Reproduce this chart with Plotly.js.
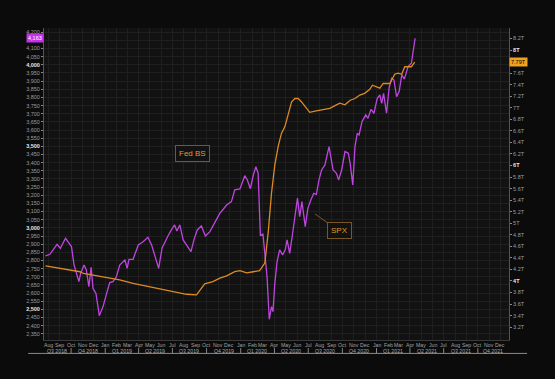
<!DOCTYPE html>
<html><head><meta charset="utf-8">
<script src="https://cdn.plot.ly/plotly-3.0.1.min.js"></script>
<style>html,body{margin:0;padding:0;background:#0b0b0b;}#chart{width:555px;height:379px;}</style>
</head><body><div id="chart"></div>
<script>
// ---- data ----
const SPX_DATES = ['2018-07-24','2018-08-05','2018-08-24','2018-09-02','2018-09-16','2018-09-28','2018-10-02','2018-10-09','2018-10-16','2018-10-22',
'2018-10-27','2018-11-05','2018-11-11','2018-11-18','2018-11-24','2018-11-29','2018-12-07','2018-12-16','2018-12-26','2019-01-04',
'2019-01-13','2019-01-22','2019-01-31','2019-02-09','2019-02-23','2019-03-01','2019-03-06','2019-03-17','2019-03-31','2019-04-13',
'2019-04-26','2019-05-06','2019-05-17','2019-05-25','2019-06-03','2019-06-13','2019-06-19','2019-06-29','2019-07-07','2019-07-13',
'2019-07-21','2019-07-30','2019-08-11','2019-08-20','2019-08-28','2019-09-06','2019-09-17','2019-09-28','2019-10-10','2019-10-23',
'2019-11-06','2019-11-15','2019-11-24','2019-12-07','2019-12-16','2019-12-30','2020-01-12','2020-01-19','2020-01-27','2020-02-04',
'2020-02-11','2020-02-17','2020-02-23','2020-03-01','2020-03-06','2020-03-12','2020-03-18','2020-03-24','2020-03-28','2020-04-02',
'2020-04-08','2020-04-15','2020-04-23','2020-04-30','2020-05-05','2020-05-12','2020-05-20','2020-05-26','2020-06-02','2020-06-08',
'2020-06-14','2020-06-23','2020-06-30','2020-07-08','2020-07-16','2020-07-23','2020-07-30','2020-08-06','2020-08-15','2020-08-26',
'2020-08-30','2020-09-06','2020-09-15','2020-09-21','2020-09-29','2020-10-08','2020-10-17','2020-10-22','2020-10-29','2020-11-04',
'2020-11-10','2020-11-15','2020-11-23','2020-12-03','2020-12-09','2020-12-17','2020-12-25','2021-01-03','2021-01-10','2021-01-15',
'2021-01-20','2021-01-28','2021-02-04','2021-02-11','2021-02-17','2021-02-24','2021-03-03','2021-03-10','2021-03-17','2021-03-27',
'2021-04-05','2021-04-10','2021-04-15'];
const SPX_VALUES = [2828,2838,2899,2875,2936,2899,2885,2772,2721,2670,
2723,2772,2742,2639,2758,2629,2598,2461,2517,2588,
2664,2670,2700,2772,2803,2752,2807,2807,2895,2915,
2942,2895,2813,2752,2875,2926,2950,2991,3018,2981,
3018,2926,2885,2854,2926,2987,3012,2950,2977,3028,
3090,3114,3140,3161,3233,3239,3320,3294,3240,3324,
3375,3335,2956,2962,2844,2700,2439,2517,2486,2660,
2793,2865,2834,2865,2926,2844,2967,3069,3182,3069,
3161,3007,3120,3171,3212,3206,3294,3355,3386,3498,
3437,3355,3335,3294,3355,3468,3458,3396,3263,3498,
3580,3570,3652,3693,3672,3727,3703,3795,3815,3764,
3825,3703,3860,3918,3907,3805,3836,3938,3912,3989,
4010,4091,4163];
const FED_DATES = ['2018-07-24','2018-08-23','2018-09-28','2018-10-25','2018-11-03','2018-12-09','2019-01-13','2019-02-09','2019-03-17','2019-04-22',
'2019-05-28','2019-07-03','2019-08-08','2019-09-04','2019-09-13','2019-09-26','2019-10-18','2019-11-06','2019-11-24','2019-12-16',
'2019-12-30','2020-01-17','2020-02-04','2020-02-21','2020-03-06','2020-03-15','2020-03-24','2020-04-02','2020-04-11','2020-04-20',
'2020-04-29','2020-05-08','2020-05-17','2020-05-26','2020-06-04','2020-06-13','2020-06-25','2020-07-05','2020-07-19','2020-08-06',
'2020-08-28','2020-09-15','2020-09-24','2020-10-08','2020-10-22','2020-11-04','2020-11-17','2020-11-30','2020-12-14','2020-12-21',
'2021-01-01','2021-01-10','2021-01-19','2021-02-06','2021-02-19','2021-02-28','2021-03-10','2021-03-18','2021-04-05','2021-04-14'];
const FED_VALUES = [4.26,4.225,4.19,4.16,4.13,4.09,4.05,4.02,3.96,3.91,
3.86,3.81,3.77,3.76,3.84,3.95,3.99,4.05,4.09,4.16,
4.18,4.14,4.16,4.18,4.31,4.83,5.52,6.01,6.33,6.56,
6.67,6.90,7.10,7.16,7.16,7.10,6.99,6.92,6.94,6.96,
6.99,7.05,7.08,7.05,7.13,7.16,7.22,7.25,7.32,7.39,
7.36,7.34,7.42,7.42,7.58,7.60,7.58,7.71,7.71,7.79];
const MONTH_NAMES = ['Jan','Feb','Mar','Apr','May','Jun','Jul','Aug','Sep','Oct','Nov','Dec'];
const QUARTER_NAMES = ['Q1','Q2','Q3','Q4'];
const SERIES_LABELS = ['Fed BS','SPX'];

// ---- axis configuration ----
const X_RANGE = ['2018-07-20','2021-12-24'];
const LEFT_RANGE = [2312, 4226];
const RIGHT_RANGE = [2.978, 8.381];
const FONT = 'Liberation Sans, Arial, sans-serif';

const lastSpx=SPX_VALUES[SPX_VALUES.length-1], lastFed=FED_VALUES[FED_VALUES.length-1];

function iso(y,m,d){return y+'-'+String(m+1).padStart(2,'0')+'-'+String(d||1).padStart(2,'0');}
const annotations=[], shapes=[];
const monthVals=[];
for(let y=2018;y<=2021;y++){for(let m=0;m<12;m++){
  const s=iso(y,m); if(s>=X_RANGE[0] && s<=X_RANGE[1]){monthVals.push(s);
    annotations.push({xref:'x',yref:'paper',x:s,y:-0.016,text:MONTH_NAMES[m],showarrow:false,yanchor:'middle',
      font:{family:FONT,size:5.2,color:'#a0a0a0'}});}
}}
const leftVals=[], leftText=[];
for(let v=2350; v<=4200; v+=50){leftVals.push(v);
  let t=v.toLocaleString('en-US');
  if(Math.abs(v-lastSpx)<25) t='';
  leftText.push(v%500===0?'<b><span style="color:#e6e6e6">'+t+'</span></b>':t);}
const rightVals=[], rightText=[];
for(let i=16;i<=41;i++){const v=i/5; rightVals.push(v);
  let t=(Number.isInteger(v)?String(v):v.toFixed(1))+'T';
  if(Math.abs(v-lastFed)<0.1) t='';
  rightText.push((i%10===0)?'<b><span style="color:#e6e6e6">'+t+'</span></b>':t);}

const toMs = s => new Date(s+'T00:00:00Z').getTime();
for(let y=2018;y<=2021;y++){for(let q=0;q<4;q++){
  const qs=iso(y,q*3), qe=(q===3)?iso(y+1,0):iso(y,q*3+3);
  if(qe<=X_RANGE[0]||qs>=X_RANGE[1]) continue;
  const a=Math.max(toMs(qs),toMs(X_RANGE[0])), b=Math.min(toMs(qe),toMs(X_RANGE[1]));
  const mid=new Date((a+b)/2).toISOString().slice(0,10);
  annotations.push({xref:'x',yref:'paper',x:mid,y:-0.034,text:QUARTER_NAMES[q]+' '+y,showarrow:false,
    font:{family:FONT,size:5.2,color:'#a8a8a8'},yanchor:'middle'});
  if(qs>X_RANGE[0]) shapes.push({type:'line',xref:'x',yref:'paper',x0:qs,x1:qs,y0:-0.026,y1:-0.042,line:{color:'#888',width:1}});
}}
shapes.push({type:'line',xref:'paper',yref:'paper',x0:-0.034,x1:1.039,y0:-0.043,y1:-0.043,line:{color:'#8a8a8a',width:1}});

annotations.push({xref:'paper',yref:'y',x:0,y:lastSpx,xanchor:'right',text:lastSpx.toLocaleString('en-US'),showarrow:false,
  bgcolor:'#c233ea',font:{family:FONT,size:5.5,color:'#fff'},borderpad:1});
annotations.push({xref:'paper',yref:'y2',x:1,y:lastFed,xanchor:'left',text:lastFed.toFixed(2)+'T',showarrow:false,
  bgcolor:'#f2a11f',font:{family:FONT,size:5.5,color:'#000'},borderpad:1});
annotations.push({xref:'paper',yref:'paper',x:0.2817,y:0.599,text:SERIES_LABELS[0],showarrow:false,
  bgcolor:'#121212',bordercolor:'#7a5627',borderwidth:1,borderpad:3,
  font:{family:FONT,size:8,color:'#e8952a'}});
annotations.push({xref:'paper',yref:'paper',x:0.5828,y:0.404,ax:24,ay:17,text:SERIES_LABELS[1],showarrow:true,
  arrowhead:0,arrowwidth:1,arrowcolor:'#7a5627',
  bgcolor:'#121212',bordercolor:'#7a5627',borderwidth:1,borderpad:3,
  font:{family:FONT,size:8,color:'#e8952a'}});

const tickFont={family:FONT,size:5.5,color:'#9c9c9c'};
const data=[
  {x:FED_DATES,y:FED_VALUES,type:'scatter',mode:'lines',name:'Fed BS',yaxis:'y2',line:{color:'#dc8a22',width:1.3}},
  {x:SPX_DATES,y:SPX_VALUES,type:'scatter',mode:'lines',name:'SPX',yaxis:'y',line:{color:'#bf45e0',width:1.3}}
];
const layout={
  width:555,height:379,margin:{l:44,r:46,t:28,b:39},
  paper_bgcolor:'#0b0b0b',plot_bgcolor:'#121212',showlegend:false,
  xaxis:{type:'date',range:X_RANGE,tickmode:'array',tickvals:monthVals,showticklabels:false,
    showgrid:true,gridcolor:'#1f1f1f',gridwidth:1,zeroline:false,showline:true,linecolor:'#3a3a3a',ticks:'',fixedrange:true},
  yaxis:{range:LEFT_RANGE,tickmode:'array',tickvals:leftVals,ticktext:leftText,tickfont:tickFont,
    showgrid:true,gridcolor:'#1f1f1f',zeroline:false,showline:true,linecolor:'#555',ticks:'outside',ticklen:2,tickcolor:'#888'},
  yaxis2:{range:RIGHT_RANGE,overlaying:'y',side:'right',tickmode:'array',tickvals:rightVals,ticktext:rightText,tickfont:tickFont,
    showgrid:false,zeroline:false,showline:true,linecolor:'#555',ticks:'outside',ticklen:2,tickcolor:'#888'},
  annotations:annotations,shapes:shapes
};
Plotly.newPlot('chart',data,layout,{staticPlot:true,displayModeBar:false});
</script></body></html>
